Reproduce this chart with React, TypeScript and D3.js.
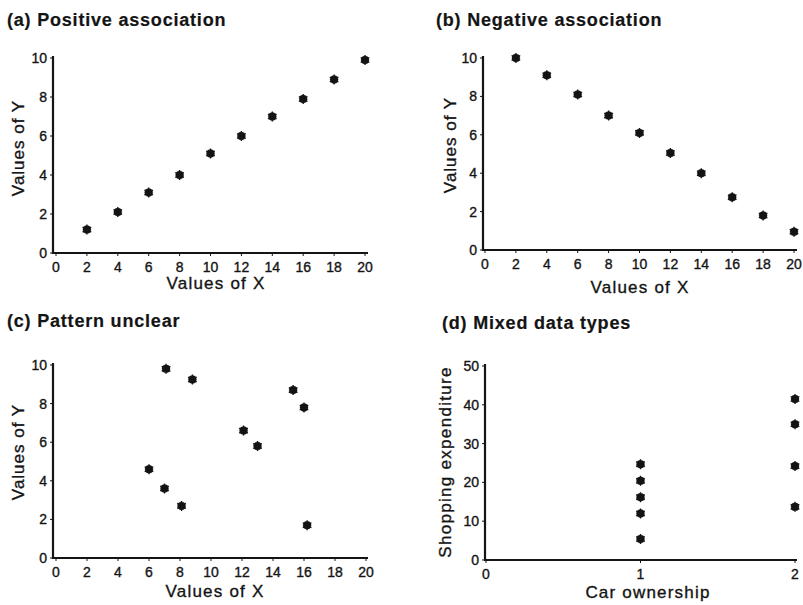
import React, { useEffect } from 'react'
import * as d3 from 'd3'

// tick values
const xTicks = [0, 2, 4, 6, 8, 10, 12, 14, 16, 18, 20]
const yTicks = [0, 2, 4, 6, 8, 10]
const carTicks = [0, 1, 2]
const spendTicks = [0, 10, 20, 30, 40, 50]

// (a) positive association
const positiveX = [2, 4, 6, 8, 10, 12, 14, 16, 18, 20]
const positiveY = [1.2, 2.1, 3.1, 4, 5.1, 6, 7, 7.9, 8.9, 9.9]

// (b) negative association
const negativeX = [2, 4, 6, 8, 10, 12, 14, 16, 18, 20]
const negativeY = [10, 9.1, 8.1, 7, 6.1, 5.05, 4, 2.75, 1.8, 0.95]

// (c) pattern unclear
const unclearX = [7.1, 8.8, 6, 7, 8.1, 12.1, 13, 15.3, 16, 16.2]
const unclearY = [9.8, 9.25, 4.6, 3.6, 2.7, 6.6, 5.8, 8.7, 7.8, 1.7]

// (d) mixed data types
const carOwnership = [1, 1, 1, 1, 1, 2, 2, 2, 2]
const shopping = [24.7, 20.4, 16.2, 12, 5.4, 41.5, 35, 24.2, 13.7]

const FONT = '"Liberation Sans", Arial, Helvetica, sans-serif'
const INK = '#141414'

const Marker = ({ cx, cy }) => {
  const star = d3.symbol(d3.symbolAsterisk, 70)()
  return (
    <g transform={`translate(${cx},${cy})`}>
      <circle r={4} fill={INK} />
      <path d={star} fill="none" stroke={INK} strokeWidth={1.3} />
    </g>
  )
}

const Panel = ({ title, titleX, titleY, xs, ys, xDomain, yDomain, xRange, yRange, xT, yT,
  xLabel, yLabel, xLabelPos, yLabelPos, axisX, axisY, axisEnd, axisTop, yLabelSpacing = 1 }) => {
  const x = d3.scaleLinear().domain(xDomain).range(xRange)
  const y = d3.scaleLinear().domain(yDomain).range(yRange)
  return (
    <g fontFamily={FONT} fill={INK} stroke={INK} strokeWidth={0.35}>
      <text x={titleX} y={titleY} fontSize={18} fontWeight="bold" letterSpacing={0.8} strokeWidth={0.2}>{title}</text>
      {/* axes */}
      <line x1={axisX} x2={axisX} y1={axisTop} y2={axisY} stroke={INK} strokeWidth={2.2} />
      <line x1={axisX - 1} x2={axisEnd} y1={axisY} y2={axisY} stroke={INK} strokeWidth={2.2} />
      {yT.map(t => (
        <g key={'y' + t}>
          <line x1={axisX - 3} x2={axisX} y1={y(t)} y2={y(t)} stroke={INK} strokeWidth={1} />
          <text x={axisX - 6} y={y(t)} dy="0.35em" textAnchor="end" fontSize={14}>{t}</text>
        </g>
      ))}
      {xT.map(t => (
        <g key={'x' + t}>
          <line x1={x(t)} x2={x(t)} y1={axisY} y2={axisY + 3} stroke={INK} strokeWidth={1} />
          <text x={x(t)} y={axisY + 19} textAnchor="middle" fontSize={14}>{t}</text>
        </g>
      ))}
      <text x={xLabelPos[0]} y={xLabelPos[1]} textAnchor="middle" fontSize={17} letterSpacing={1.2}>{xLabel}</text>
      <text transform={`translate(${yLabelPos[0]},${yLabelPos[1]}) rotate(-90)`}
        textAnchor="middle" fontSize={17} letterSpacing={yLabelSpacing}>{yLabel}</text>
      {xs.map((v, i) => <Marker key={i} cx={x(v)} cy={y(ys[i])} />)}
    </g>
  )
}

export default function App() {
  useEffect(() => { document.body.style.margin = '0' }, [])
  return (
    <svg width={803} height={605} style={{ display: 'block', background: '#fff' }}>
      <Panel title="(a)  Positive association" titleX={7} titleY={26}
        xs={positiveX} ys={positiveY} xDomain={[0, 20]} yDomain={[0, 10]}
        xRange={[56, 365]} yRange={[253, 58]} xT={xTicks} yT={yTicks}
        xLabel="Values of X" yLabel="Values of Y" xLabelPos={[216, 289]} yLabelPos={[24, 148]}
        axisX={53} axisY={253} axisEnd={368} axisTop={56} />
      <Panel title="(b)  Negative association" titleX={436} titleY={26}
        xs={negativeX} ys={negativeY} xDomain={[0, 20]} yDomain={[0, 10]}
        xRange={[485, 794]} yRange={[250, 58]} xT={xTicks} yT={yTicks}
        xLabel="Values of X" yLabel="Values of Y" xLabelPos={[640, 293]} yLabelPos={[456, 145]}
        axisX={483} axisY={250} axisEnd={797} axisTop={56} />
      <Panel title="(c)  Pattern unclear" titleX={7} titleY={327}
        xs={unclearX} ys={unclearY} xDomain={[0, 20]} yDomain={[0, 10]}
        xRange={[56, 366]} yRange={[558, 365]} xT={xTicks} yT={yTicks}
        xLabel="Values of X" yLabel="Values of Y" xLabelPos={[215, 597]} yLabelPos={[24, 452]}
        axisX={53} axisY={558} axisEnd={368} axisTop={363} />
      <Panel title="(d)  Mixed data types" titleX={442} titleY={329}
        xs={carOwnership} ys={shopping} xDomain={[0, 2]} yDomain={[0, 50]}
        xRange={[486, 795]} yRange={[560, 366]} xT={carTicks} yT={spendTicks}
        xLabel="Car ownership" yLabel="Shopping expenditure" xLabelPos={[648, 598]} yLabelPos={[451, 462]}
        axisX={485} axisY={560} axisEnd={797} axisTop={364} yLabelSpacing={1.3} />
    </svg>
  )
}
